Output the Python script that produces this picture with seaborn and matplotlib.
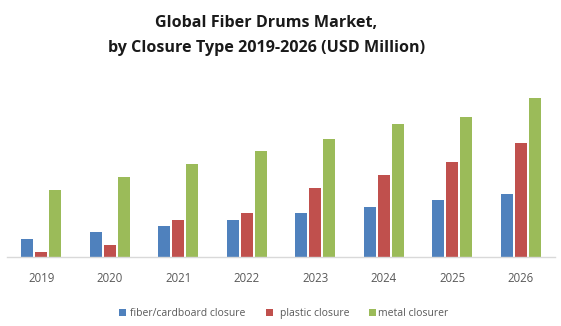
import matplotlib
matplotlib.use("Agg")
import matplotlib.pyplot as plt
import seaborn as sns
import pandas as pd
from matplotlib.patches import Rectangle

years = ["2019", "2020", "2021", "2022", "2023", "2024", "2025", "2026"]
fiber = [18, 25, 31, 37, 44, 50, 57, 63]
plastic = [5, 12, 37, 44, 69, 82, 95, 114]
metal = [67, 80, 93, 106, 118, 133, 140, 159]
series_names = ["fiber/cardboard closure", "plastic closure", "metal closurer"]
colors = ["#4F81BD", "#C0504D", "#9BBB59"]
title_lines = ["Global Fiber Drums Market,", "by Closure Type 2019-2026 (USD Million)"]

rows = []
for name, vals in zip(series_names, [fiber, plastic, metal]):
    for y, v in zip(years, vals):
        rows.append({"year": y, "value": v, "series": name})
df = pd.DataFrame(rows)

sns.set_style("white")
plt.rcParams["font.family"] = ["Open Sans", "DejaVu Sans"]

W, H = 561, 326
fig = plt.figure(figsize=(W / 100, H / 100), dpi=100)
ax_left, ax_right, ax_base, ax_top = 7, 555, 257, 90
ax = fig.add_axes([ax_left / W, (H - ax_base) / H, (ax_right - ax_left) / W, (ax_base - ax_top) / H])

sns.barplot(data=df, x="year", y="value", hue="series", palette=colors,
            width=0.613, gap=0.143, ax=ax, legend=False, saturation=1,
            linewidth=0)

ax.set_ylim(0, ax_base - ax_top)
ax.set_xlim(-0.5, len(years) - 0.5)
ax.set_xlabel("")
ax.set_ylabel("")
ax.set_yticks([])
for s in ["top", "right", "left"]:
    ax.spines[s].set_visible(False)
ax.spines["bottom"].set_color("#D9D9D9")
ax.spines["bottom"].set_linewidth(1.0)
ax.tick_params(axis="x", length=0, pad=11, labelsize=8.3, labelcolor="#595959")

# title: two lines at their baselines
for txt, base in zip(title_lines, [27, 52]):
    fig.text(266.5 / W, 1 - base / H, txt, ha="center", va="baseline", fontsize=11.6,
             fontweight="bold", color="#1a1a1a")

# legend drawn manually so all entries share one baseline
legend_items = [(119, 130), (266, 280), (369, 378)]
legend_y = 312
for (sq_x, tx_x), name, c in zip(legend_items, series_names, colors):
    fig.patches.append(Rectangle((sq_x / W, 1 - (legend_y + 3.5) / H), 6.5 / W, 6.5 / H,
                                 transform=fig.transFigure, facecolor=c, edgecolor="none"))
    fig.text(tx_x / W, 1 - (legend_y + 4) / H, name, ha="left", va="baseline",
             fontsize=7.5, color="#595959")

fig.savefig("out.png", dpi=100)
